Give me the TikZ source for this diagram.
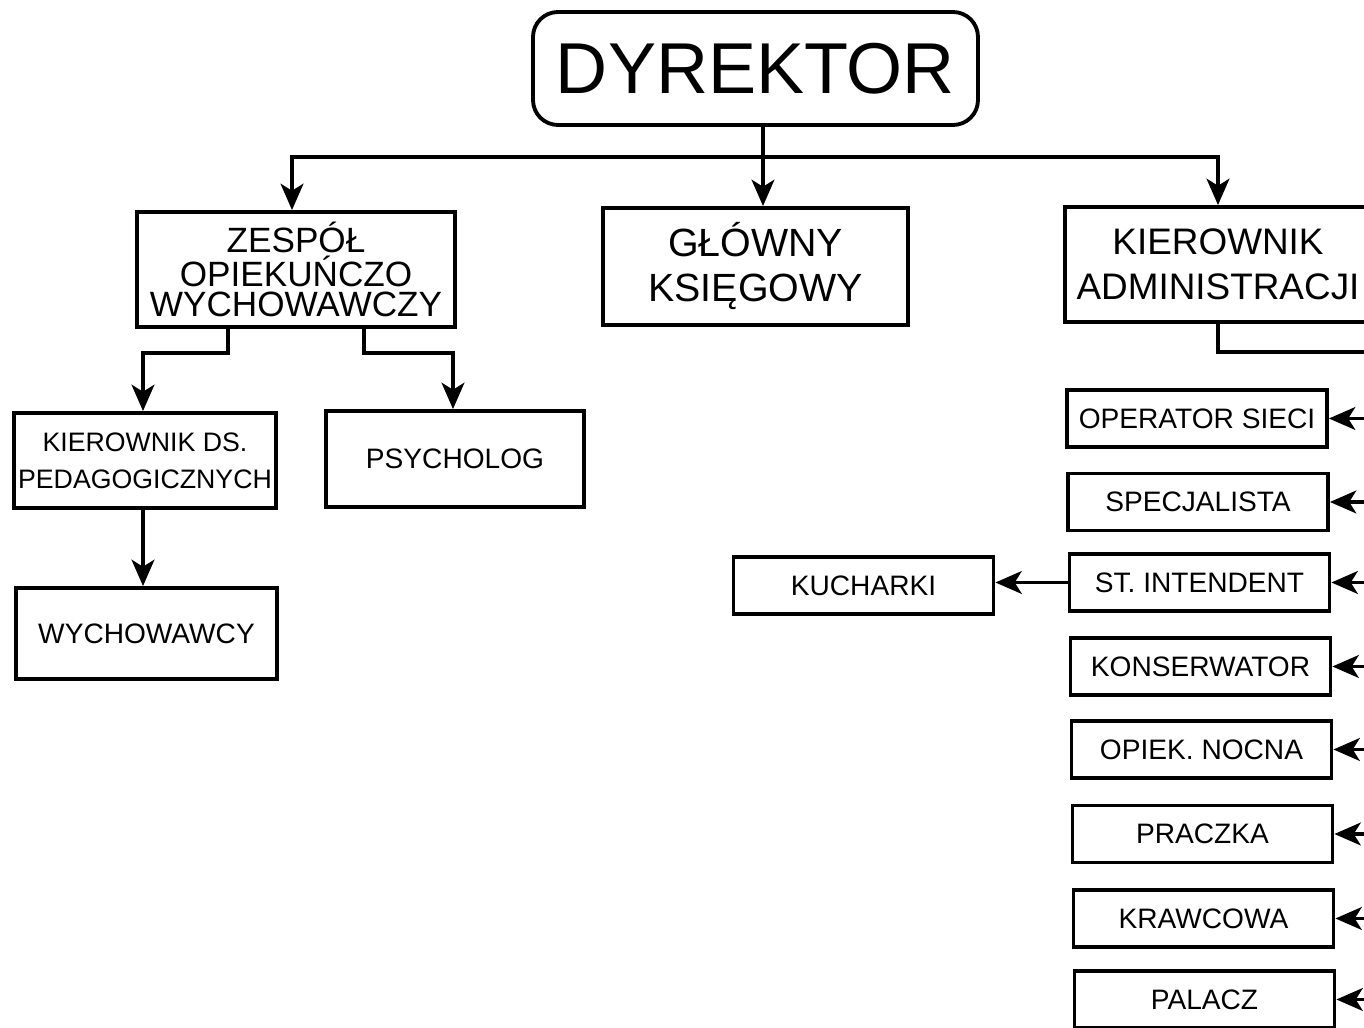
\documentclass[tikz,border=0pt]{standalone}
\usepackage{fontspec}
\setmainfont{Liberation Sans}
\usetikzlibrary{arrows.meta}
\usetikzlibrary{positioning}

\begin{document}
\begin{tikzpicture}[
	>={Stealth[length=7.5pt,width=6.5pt,inset=2pt]},
	box/.style={draw, line width=1.1pt, inner sep=0pt, align=center},
	bigbox/.style={box, minimum width=3.1cm, minimum height=1.15cm},
	smallbox/.style={box, minimum width=2.6cm, minimum height=0.57cm, font=\fontsize{8}{9.5}\selectfont},
	link/.style={line width=0.9pt}
	]
	\clip (0,0) rectangle (13.64,-10.28);
	
	% gora
	\node[box, rounded corners=0.25cm, minimum width=4.45cm, minimum height=1.13cm, font=\fontsize{20.5}{24}\selectfont] (dyr) at (7.555,-0.685) {DYREKTOR};
	
	\node[bigbox, minimum width=3.18cm, font=\fontsize{10}{8.4}\selectfont] (zesp) at (2.96,-2.695) {ZESPÓŁ\\OPIEKUŃCZO\\WYCHOWAWCZY};
	\node[bigbox, minimum width=3.05cm, minimum height=1.17cm, font=\fontsize{11.2}{12.8}\selectfont] (ksieg) at (7.555,-2.665) {GŁÓWNY\\KSIĘGOWY};
	\node[bigbox, minimum width=3.06cm, font=\fontsize{10.5}{12.8}\selectfont] (kadm) at (12.18,-2.645) {KIEROWNIK\\ADMINISTRACJI};
	
	\coordinate (bus) at (7.63,-1.57);
	\draw[link,->] ([xshift=0.075cm]dyr.south) -- ([xshift=0.075cm]ksieg.north);
	\draw[link,->] (bus) -| ([xshift=-0.04cm]zesp.north);
	\draw[link,->] (bus) -| (kadm.north);
	
	% lewa strona
	\node[box, minimum width=2.62cm, minimum height=0.95cm, font=\fontsize{7.6}{10.5}\selectfont] (kdsp) at (1.45,-4.605) {KIEROWNIK DS.\\PEDAGOGICZNYCH};
	\node[box, minimum width=2.58cm, minimum height=0.96cm, font=\fontsize{8}{9.5}\selectfont] (psych) at (4.55,-4.59) {PSYCHOLOG};
	\node[box, minimum width=2.61cm, minimum height=0.91cm, font=\fontsize{8}{9.5}\selectfont] (wych) at (1.465,-6.335) {WYCHOWAWCY};
	
	\draw[link,->] ([xshift=-0.68cm]zesp.south) |- ([xshift=-0.02cm,yshift=0.58cm]kdsp.north) -- ([xshift=-0.02cm]kdsp.north);
	\draw[link,->] ([xshift=0.68cm]zesp.south) |- ([xshift=-0.02cm,yshift=0.56cm]psych.north) -- ([xshift=-0.02cm]psych.north);
	\draw[link,->] ([xshift=-0.02cm]kdsp.south) -- ([xshift=-0.035cm]wych.north);
	
	% administracja
	\node[smallbox] (oper) at (11.97,-4.185) {OPERATOR SIECI};
	\node[smallbox] (spec) at (11.98,-5.02) {SPECJALISTA};
	\node[smallbox] (inten) at (11.995,-5.825) {ST. INTENDENT};
	\node[smallbox] (kons) at (12.005,-6.665) {KONSERWATOR};
	\node[smallbox] (opiek) at (12.015,-7.495) {OPIEK. NOCNA};
	\node[smallbox] (pracz) at (12.025,-8.34) {PRACZKA};
	\node[smallbox] (kraw) at (12.035,-9.185) {KRAWCOWA};
	\node[smallbox] (palacz) at (12.045,-9.995) {PALACZ};
	\node[smallbox] (kuch) at (8.635,-5.855) {KUCHARKI};
	
	\draw[link] (kadm.south) |- ++(2,-0.28);
	\draw[link,->] (inten.west) -- (inten.west -| kuch.east);
	\foreach \n in {oper,spec,inten,kons,opiek,pracz,kraw,palacz}
		\draw[link,<-] (\n.east) -- ++(0.6,0);
\end{tikzpicture}
\end{document}
